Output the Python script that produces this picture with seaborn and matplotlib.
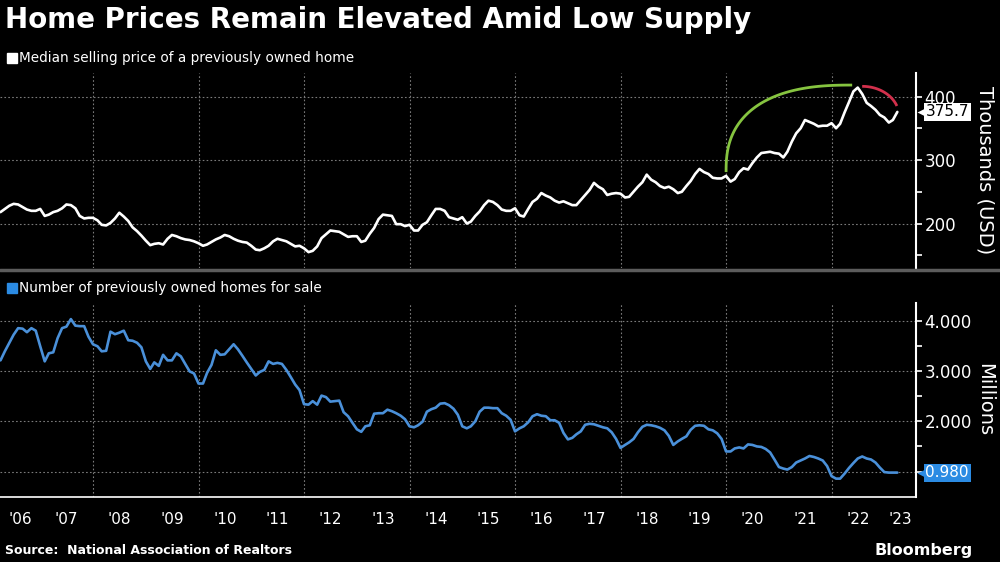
import numpy as np
import pandas as pd
import seaborn as sns
import matplotlib.pyplot as plt
from matplotlib.patches import Rectangle
from matplotlib.transforms import ScaledTranslation

# Monthly readings, Mar 2006 .. Mar 2023
months = pd.date_range("2006-03-31", "2023-03-31", freq="ME")

# Median selling price of a previously owned home (thousands USD)
price_k = [
    218, 223, 228, 231, 230, 226, 222, 220, 220, 223,                      # 2006
    212, 214, 218, 220, 224, 230, 229, 224, 212, 208, 209, 209,            # 2007
    205, 198, 197, 201, 208, 217, 211, 204, 194, 188, 181, 173,            # 2008
    166, 168, 169, 167, 176, 182, 180, 177, 175, 174, 172, 169,            # 2009
    165, 167, 171, 175, 178, 182, 180, 176, 173, 171, 170, 165,            # 2010
    159, 158, 161, 165, 172, 176, 174, 172, 168, 164, 165, 161,            # 2011
    155, 157, 164, 177, 183, 189, 188, 187, 183, 179, 180, 180,            # 2012
    171, 173, 184, 193, 207, 214, 213, 212, 199, 199, 196, 198,            # 2013
    189, 189, 198, 202, 213, 223, 223, 220, 210, 208, 206, 210,            # 2014
    200, 203, 212, 219, 229, 236, 234, 229, 222, 220, 220, 224,            # 2015
    213, 211, 223, 234, 239, 248, 244, 241, 236, 233, 235, 232,            # 2016
    229, 229, 237, 245, 253, 264, 258, 254, 245, 247, 248, 247,            # 2017
    241, 242, 250, 258, 265, 277, 269, 265, 259, 256, 258, 254,            # 2018
    248, 250, 259, 267, 278, 286, 281, 278, 272, 271, 271, 275,            # 2019
    266, 270, 281, 287, 285, 295, 304, 311, 312, 313, 311, 310,            # 2020
    304, 313, 329, 342, 350, 363, 360, 357, 353, 354, 354, 358,            # 2021
    350, 357, 375, 391, 408, 414, 404, 390, 385, 379, 371, 367,            # 2022
    359, 363, 375.7,                                                       # 2023
]

# Number of previously owned homes for sale (millions)
inventory_m = [
    3.21, 3.39, 3.56, 3.72, 3.85, 3.84, 3.77, 3.85, 3.80, 3.49,                    # 2006
    3.19, 3.35, 3.37, 3.65, 3.85, 3.88, 4.03, 3.90, 3.89, 3.89, 3.68, 3.53,        # 2007
    3.49, 3.39, 3.40, 3.78, 3.73, 3.76, 3.80, 3.61, 3.60, 3.56, 3.47, 3.19,        # 2008
    3.04, 3.17, 3.10, 3.32, 3.21, 3.21, 3.35, 3.29, 3.14, 2.99, 2.95, 2.75,        # 2009
    2.75, 2.96, 3.12, 3.41, 3.32, 3.33, 3.43, 3.53, 3.43, 3.30, 3.17, 3.04,        # 2010
    2.91, 2.98, 3.02, 3.19, 3.14, 3.16, 3.14, 3.02, 2.88, 2.73, 2.62, 2.34,        # 2011
    2.33, 2.40, 2.33, 2.51, 2.48, 2.39, 2.40, 2.41, 2.18, 2.10, 1.97, 1.84,        # 2012
    1.79, 1.90, 1.92, 2.15, 2.16, 2.16, 2.23, 2.20, 2.16, 2.11, 2.04, 1.90,        # 2013
    1.88, 1.92, 1.99, 2.19, 2.24, 2.27, 2.35, 2.36, 2.32, 2.25, 2.13, 1.90,        # 2014
    1.86, 1.90, 2.00, 2.19, 2.27, 2.27, 2.26, 2.26, 2.16, 2.11, 2.03, 1.80,        # 2015
    1.86, 1.90, 1.98, 2.10, 2.14, 2.11, 2.10, 2.02, 2.02, 1.97, 1.77, 1.64,        # 2016
    1.67, 1.74, 1.80, 1.93, 1.95, 1.94, 1.91, 1.88, 1.86, 1.78, 1.65, 1.47,        # 2017
    1.53, 1.58, 1.65, 1.78, 1.89, 1.93, 1.92, 1.90, 1.87, 1.82, 1.71, 1.53,        # 2018
    1.60, 1.65, 1.70, 1.83, 1.91, 1.92, 1.91, 1.84, 1.82, 1.76, 1.65, 1.40,        # 2019
    1.40, 1.46, 1.48, 1.46, 1.54, 1.53, 1.50, 1.49, 1.45, 1.38, 1.24, 1.09,        # 2020
    1.06, 1.04, 1.09, 1.18, 1.22, 1.26, 1.31, 1.29, 1.26, 1.22, 1.11, 0.91,        # 2021
    0.86, 0.86, 0.96, 1.07, 1.17, 1.26, 1.30, 1.26, 1.24, 1.18, 1.08, 0.99,        # 2022
    0.98, 0.98, 0.98,                                                              # 2023
]

year_labels = ["'06", "'07", "'08", "'09", "'10", "'11", "'12", "'13", "'14",
               "'15", "'16", "'17", "'18", "'19", "'20", "'21", "'22", "'23"]
price_ticks = [200, 300, 400]
inventory_ticks = [1, 2, 3, 4]
inventory_ticklabels = ["", "2.000", "3.000", "4.000"]
last_price = "375.7"
last_inventory = "0.980"

df = pd.DataFrame({"date": months, "price": price_k, "inventory": inventory_m})
df["year"] = df["date"].dt.year + df["date"].dt.dayofyear / 365.25

sns.set_theme(style="dark", rc={"axes.facecolor": "black", "figure.facecolor": "black"})
plt.rcParams["font.family"] = ["DejaVu Sans"]

BG = "black"
GRID = "#7a7a7a"
BLUE_LINE = "#4a90d9"
BLUE_TAG = "#2b8be3"
X0, X1 = 2006.237, 2023.6

fig = plt.figure(figsize=(10, 5.62), dpi=100, facecolor=BG)
ax1 = fig.add_axes([0, 1 - 268 / 562, 0.916, 195 / 562])
ax2 = fig.add_axes([0, 1 - 497 / 562, 0.916, 194 / 562])

sns.lineplot(data=df, x="year", y="price", ax=ax1, color="white", lw=1.9)
sns.lineplot(data=df, x="year", y="inventory", ax=ax2, color=BLUE_LINE, lw=1.9)

ax1.set_ylim(130, 437)
ax2.set_ylim(0.495, 4.35)

for ax in (ax1, ax2):
    ax.set_facecolor(BG)
    ax.set_xlim(X0, X1)
    ax.set_xlabel("")
    ax.set_ylabel("")
    for s in ("top", "left", "bottom"):
        ax.spines[s].set_visible(False)
    ax.spines["right"].set_color("white")
    ax.spines["right"].set_linewidth(1.5)
    ax.yaxis.tick_right()
    ax.tick_params(axis="y", which="both", colors="white", labelcolor="white",
                   length=4, width=1.2, direction="out", labelsize=12, pad=2)
    # vertical grid every two years
    for yr in range(2008, 2024, 2):
        ax.axvline(yr, color=GRID, lw=0.8, ls=(0, (1.5, 2)), zorder=0)
    ax.grid(False)

ax1.set_yticks(price_ticks)
ax1.set_yticklabels([str(t) for t in price_ticks])
ax1.set_yticks([150, 250, 350], minor=True)
ax1.tick_params(axis="x", which="both", bottom=False, labelbottom=False)
for t in price_ticks:
    ax1.axhline(t, color=GRID, lw=0.8, ls=(0, (1.5, 2)), zorder=0)

ax2.set_yticks(inventory_ticks)
ax2.set_yticklabels(inventory_ticklabels)
ax2.set_yticks([1.5, 2.5, 3.5], minor=True)
for t in inventory_ticks:
    ax2.axhline(t, color=GRID, lw=0.8, ls=(0, (1.5, 2)), zorder=0)
ax2.spines["bottom"].set_visible(True)
ax2.spines["bottom"].set_color("white")
ax2.spines["bottom"].set_linewidth(1.2)

# year separators (major) and mid-year labels (minor)
ax2.set_xticks(list(range(2007, 2024)))
ax2.set_xticklabels([])
mids = [(X0 + 2007) / 2] + [y + 0.5 for y in range(2007, 2023)] + [(2023 + X1) / 2]
ax2.set_xticks(mids, minor=True)
ax2.set_xticklabels(year_labels, minor=True)
ax2.tick_params(axis="x", which="major", colors="#5a5a5a", length=29, width=1, direction="out")
ax2.tick_params(axis="x", which="minor", length=0, labelcolor="white", labelsize=11, pad=11)

# annotation arcs (superellipse quarter, then ellipse quarter)
t = np.linspace(np.pi, np.pi / 2, 120)
e = 2 / 2.5
ax1.plot(2022.39 - 2.39 * np.abs(np.cos(t)) ** e, 281 + 137 * np.abs(np.sin(t)) ** e,
         color="#86c440", lw=2, solid_capstyle="butt")
t = np.linspace(np.pi / 2, np.radians(20), 40)
ax1.plot(2022.58 + 0.70 * np.cos(t), 369 + 47 * np.sin(t), color="#d2304c", lw=2,
         solid_capstyle="butt")

# last value tags
def value_tag(ax, val, text, fc, tc):
    tr = ax.get_yaxis_transform()
    ax.text(1.0, val, text, transform=tr + ScaledTranslation(9.5 / 100, 0, fig.dpi_scale_trans),
            ha="left", va="center", fontsize=11, color=tc, clip_on=False, zorder=10,
            bbox=dict(boxstyle="square,pad=0.1", fc=fc, ec="none"))
    ax.plot([1.0], [val], marker="<", ms=8.5, color=fc, mec="none", clip_on=False, zorder=9,
            transform=tr + ScaledTranslation(6.5 / 100, 0, fig.dpi_scale_trans))

value_tag(ax1, 375.7, last_price, "white", "black")
value_tag(ax2, 0.98, last_inventory, BLUE_TAG, "white")

# panel divider
fig.add_artist(plt.Line2D([0, 1], [1 - 270 / 562] * 2, color="#5c5c5c", lw=2.5))

# legend squares
fig.add_artist(Rectangle((0.007, 1 - 63 / 562), 0.010, 10 / 562, color="white"))
fig.add_artist(Rectangle((0.007, 1 - 293 / 562), 0.010, 10 / 562, color=BLUE_TAG))

# texts
fig.text(0.005, 1 - 20 / 562, "Home Prices Remain Elevated Amid Low Supply",
         color="white", fontsize=20, fontweight="bold", va="center", ha="left")
fig.text(0.019, 1 - 58 / 562, "Median selling price of a previously owned home",
         color="white", fontsize=9.8, va="center", ha="left")
fig.text(0.019, 1 - 288 / 562, "Number of previously owned homes for sale",
         color="white", fontsize=9.8, va="center", ha="left")
fig.text(0.985, 1 - 170 / 562, "Thousands (USD)", color="white", fontsize=14,
         rotation=270, va="center", ha="center")
fig.text(0.985, 1 - 400 / 562, "Millions", color="white", fontsize=14,
         rotation=270, va="center", ha="center")
fig.text(0.005, 1 - 550 / 562, "Source:  National Association of Realtors",
         color="white", fontsize=9, fontweight="bold", va="center", ha="left")
fig.text(0.973, 1 - 550 / 562, "Bloomberg", color="white", fontsize=11.5,
         fontweight="bold", va="center", ha="right")

fig.savefig("out.png", dpi=100, facecolor=BG)
